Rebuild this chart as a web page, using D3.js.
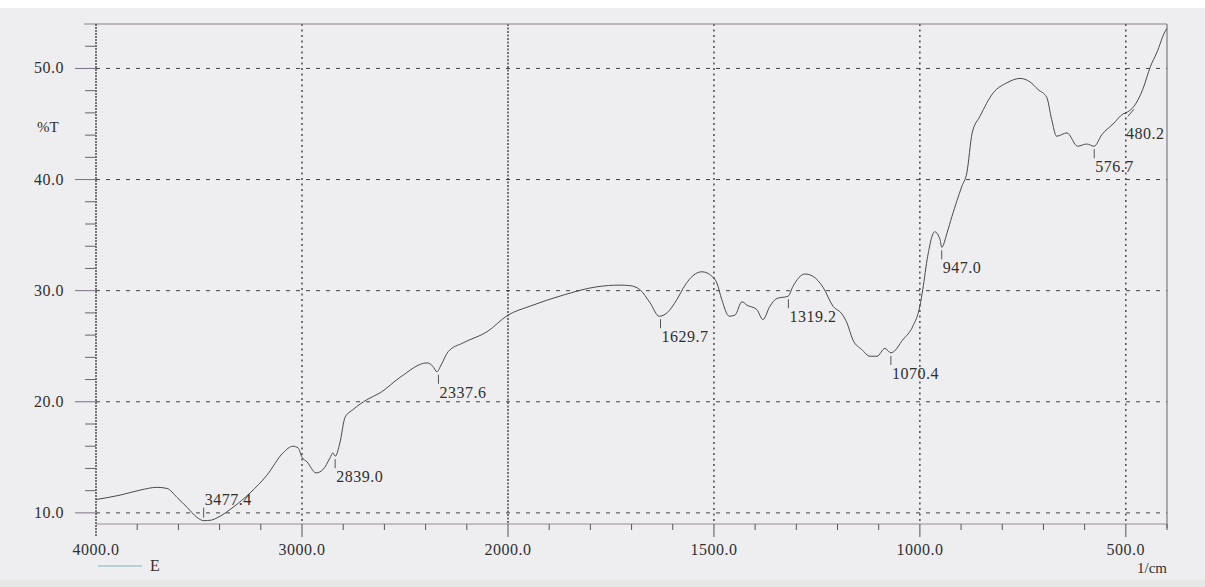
<!DOCTYPE html>
<html>
<head>
<meta charset="utf-8">
<script src="https://cdn.jsdelivr.net/npm/d3@7"></script>
<style>
  body { margin: 0; background: #ffffff; }
  svg { display: block; }
  text { font-family: "Liberation Serif", "DejaVu Serif", serif; fill: #303030; }
</style>
</head>
<body>
<svg id="svg"></svg>
<script>
// spectrum trace (wavenumber, %T)
let wavenumbers = [4000, 3883, 3786, 3704, 3655, 3607, 3558, 3510, 3477, 3440, 3413, 3335, 3252, 3170, 3092, 3044, 3019, 3000, 2976, 2932,
    2898, 2864, 2850, 2839, 2816, 2791, 2752, 2684, 2621, 2524, 2393, 2365, 2345, 2325, 2291, 2218, 2102, 2000, 1947, 1866,
    1784, 1728, 1704, 1680, 1655, 1633, 1614, 1590, 1570, 1551, 1529, 1505, 1493, 1481, 1463, 1449, 1432, 1420, 1396, 1381,
    1364, 1347, 1320, 1308, 1279, 1260, 1235, 1211, 1189, 1177, 1163, 1141, 1121, 1104, 1085, 1070, 1041, 1017, 1000, 993,
    981, 964, 951, 947, 934, 922, 898, 886, 873, 854, 822, 789, 757, 733, 713, 692, 680, 668, 643, 617,
    595, 577, 558, 531, 507, 495, 480, 459, 440, 425, 405, 400];
let transmittance = [11.2, 11.6, 12.05, 12.3, 12.2, 11.4, 10.5, 9.6, 9.3, 9.35, 9.55, 10.5, 11.8, 13.4, 15.4, 16.0, 15.85, 15.0, 14.6, 13.6,
    13.9, 14.95, 15.4, 15.1, 16.3, 18.6, 19.3, 20.2, 20.8, 22.2, 23.5, 23.2, 22.7, 23.3, 24.5, 25.3, 26.3, 27.8, 28.6, 29.6,
    30.35, 30.5, 30.45, 30.1, 28.9, 27.7, 28.0, 29.2, 30.5, 31.35, 31.7, 31.3, 30.7, 29.2, 27.7, 27.8, 29.0, 28.7, 28.3, 27.4,
    28.6, 29.3, 29.5, 30.4, 31.5, 31.3, 30.3, 28.6, 27.9, 27.1, 25.6, 24.7, 24.1, 24.1, 24.8, 24.4, 25.6, 26.8, 28.6, 30.1,
    33.1, 35.3, 34.6, 33.9, 35.2, 36.7, 39.4, 40.6, 44.2, 45.7, 47.8, 48.7, 49.1, 48.8, 48.1, 47.4, 45.4, 43.9, 44.2, 43.0,
    43.2, 43.0, 44.05, 45.0, 45.9, 46.1, 46.6, 48.1, 50.2, 51.4, 53.3, 53.6];

// marked peaks
let peakLabels = ["3477.4", "2839.0", "2337.6", "1629.7", "1319.2", "1070.4", "947.0", "576.7", "480.2"];
let peakWn = [3477.4, 2839.0, 2337.6, 1629.7, 1319.2, 1070.4, 947.0, 576.7, 480.2];
let peakT = [9.3, 15.1, 22.7, 27.7, 29.5, 24.4, 33.9, 43.0, 46.6];

let xMajor = [4000, 3000, 2000, 1500, 1000, 500];
let xMajorLabels = ["4000.0", "3000.0", "2000.0", "1500.0", "1000.0", "500.0"];
let xMinor = [3800, 3600, 3400, 3200, 2800, 2600, 2400, 2200, 1900, 1800, 1700, 1600, 1400, 1300, 1200, 1100, 900, 800, 700, 600, 400];
let yMajor = [10, 20, 30, 40, 50];
let yMajorLabels = ["10.0", "20.0", "30.0", "40.0", "50.0"];
let yMinor = [12, 14, 16, 18, 22, 24, 26, 28, 32, 34, 36, 38, 42, 44, 46, 48, 52];

let width = 1205, height = 587;
let svg = d3.select("#svg").attr("width", width).attr("height", height);

// paper
svg.append("rect").attr("x", 0).attr("y", 8).attr("width", width).attr("height", 572).attr("fill", "#eeeef1");
svg.append("rect").attr("x", 0).attr("y", 580).attr("width", width).attr("height", 7).attr("fill", "#e5e8e5");

// x scale is split: 4000-2000 at half the density of 2000-400
let x = d3.scaleLinear().domain([4000, 2000, 400]).range([96, 508, 1167]);
let y = d3.scaleLinear().domain([9, 54]).range([524, 24]);

let g = svg.append('g');

// horizontal dashed grid
g.selectAll('line.hgrid')
    .data(yMajor)
    .join('line')
    .attr('x1', x(4000)).attr('x2', x(400))
    .attr('y1', d => y(d)).attr('y2', d => y(d))
    .attr('stroke', '#444').attr('stroke-width', 1)
    .attr('stroke-dasharray', '4,6');

// vertical dotted grid
g.selectAll('line.vgrid')
    .data(xMajor.slice(1))
    .join('line')
    .attr('x1', d => x(d)).attr('x2', d => x(d))
    .attr('y1', y(54)).attr('y2', y(9))
    .attr('stroke', '#333').attr('stroke-width', 1.3)
    .attr('stroke-dasharray', d => d == 2000 ? '2,1.5' : '2,3.5');

// frame
g.append('line').attr('x1', 84).attr('x2', x(400)).attr('y1', y(54)).attr('y2', y(54))
    .attr('stroke', '#8a7f88').attr('stroke-width', 1);
g.append('line').attr('x1', x(400)).attr('x2', x(400)).attr('y1', y(54)).attr('y2', y(9) + 4)
    .attr('stroke', '#666').attr('stroke-width', 1);
g.append('line').attr('x1', x(4000)).attr('x2', x(4000)).attr('y1', y(54)).attr('y2', y(9) + 13)
    .attr('stroke', '#333').attr('stroke-width', 1.3).attr('stroke-dasharray', '2,1');
g.append('line').attr('x1', x(4000)).attr('x2', x(400)).attr('y1', y(9)).attr('y2', y(9))
    .attr('stroke', '#9a8a9a').attr('stroke-width', 1.2);

// y ticks
g.selectAll('line.ymaj')
    .data(yMajor)
    .join('line')
    .attr('x1', 75).attr('x2', x(4000))
    .attr('y1', d => y(d)).attr('y2', d => y(d))
    .attr('stroke', '#7a6f86').attr('stroke-width', 1);
g.selectAll('line.ymin')
    .data(yMinor)
    .join('line')
    .attr('x1', 85).attr('x2', x(4000))
    .attr('y1', d => y(d)).attr('y2', d => y(d))
    .attr('stroke', '#666').attr('stroke-width', 1);
g.selectAll('text.ylab')
    .data(yMajorLabels)
    .join('text')
    .attr('x', 64).attr('y', (d, i) => y(yMajor[i]) + 5)
    .attr('text-anchor', 'end')
    .style('font-size', '16px').style('letter-spacing', '0.5px')
    .text(d => d);
g.append('text').attr('x', 37).attr('y', 132)
    .style('font-size', '15px').text('%T');

// x ticks
g.selectAll('line.xmaj')
    .data(xMajor.slice(1))
    .join('line')
    .attr('x1', d => x(d)).attr('x2', d => x(d))
    .attr('y1', y(9)).attr('y2', y(9) + 13)
    .attr('stroke', '#555').attr('stroke-width', 1);
g.selectAll('line.xmin')
    .data(xMinor)
    .join('line')
    .attr('x1', d => x(d)).attr('x2', d => x(d))
    .attr('y1', y(9)).attr('y2', y(9) + 6)
    .attr('stroke', '#555').attr('stroke-width', 1);
g.selectAll('text.xlab')
    .data(xMajorLabels)
    .join('text')
    .attr('x', (d, i) => x(xMajor[i])).attr('y', 555)
    .attr('text-anchor', 'middle')
    .style('font-size', '16px').style('letter-spacing', '0.5px')
    .text(d => d);
g.append('text').attr('x', x(400)).attr('y', 573)
    .attr('text-anchor', 'end')
    .style('font-size', '15px').text('1/cm');

// legend
g.append('line').attr('x1', 98).attr('x2', 142).attr('y1', 566).attr('y2', 566)
    .attr('stroke', '#7fb3b8').attr('stroke-width', 1.2);
g.append('text').attr('x', 150).attr('y', 571)
    .style('font-size', '16px').text('E');

// spectrum
let line = d3.line()
    .x(d => x(d[0]))
    .y(d => y(d[1]))
    .curve(d3.curveMonotoneX);
g.append('path')
    .datum(wavenumbers.map((w, i) => [w, transmittance[i]]))
    .attr('d', line)
    .attr('fill', 'none')
    .attr('stroke', '#4a4a4a')
    .attr('stroke-width', 1);

// peak markers: short tick under the trace, value under the tick
// (3477.4 sits on the floor, so its label goes above; 480.2 gets a slanted tick)
g.selectAll('line.peak')
    .data(peakWn)
    .join('line')
    .attr('x1', d => x(d)).attr('x2', (d, i) => i == 8 ? x(d) - 6 : x(d))
    .attr('y1', (d, i) => i == 0 ? y(peakT[i]) - 13 : y(peakT[i]) + 3)
    .attr('y2', (d, i) => i == 0 ? y(peakT[i]) - 3 : (i == 8 ? y(peakT[i]) + 10 : y(peakT[i]) + 12))
    .attr('stroke', '#555').attr('stroke-width', 1);
g.selectAll('text.peak')
    .data(peakLabels)
    .join('text')
    .attr('x', (d, i) => x(peakWn[i]) + (i == 8 ? -8 : 1))
    .attr('y', (d, i) => i == 0 ? y(peakT[i]) - 16 : (i == 8 ? y(peakT[i]) + 33 : y(peakT[i]) + 26))
    .style('font-size', '16px').style('letter-spacing', '0.5px')
    .text(d => d);
</script>
</body>
</html>
